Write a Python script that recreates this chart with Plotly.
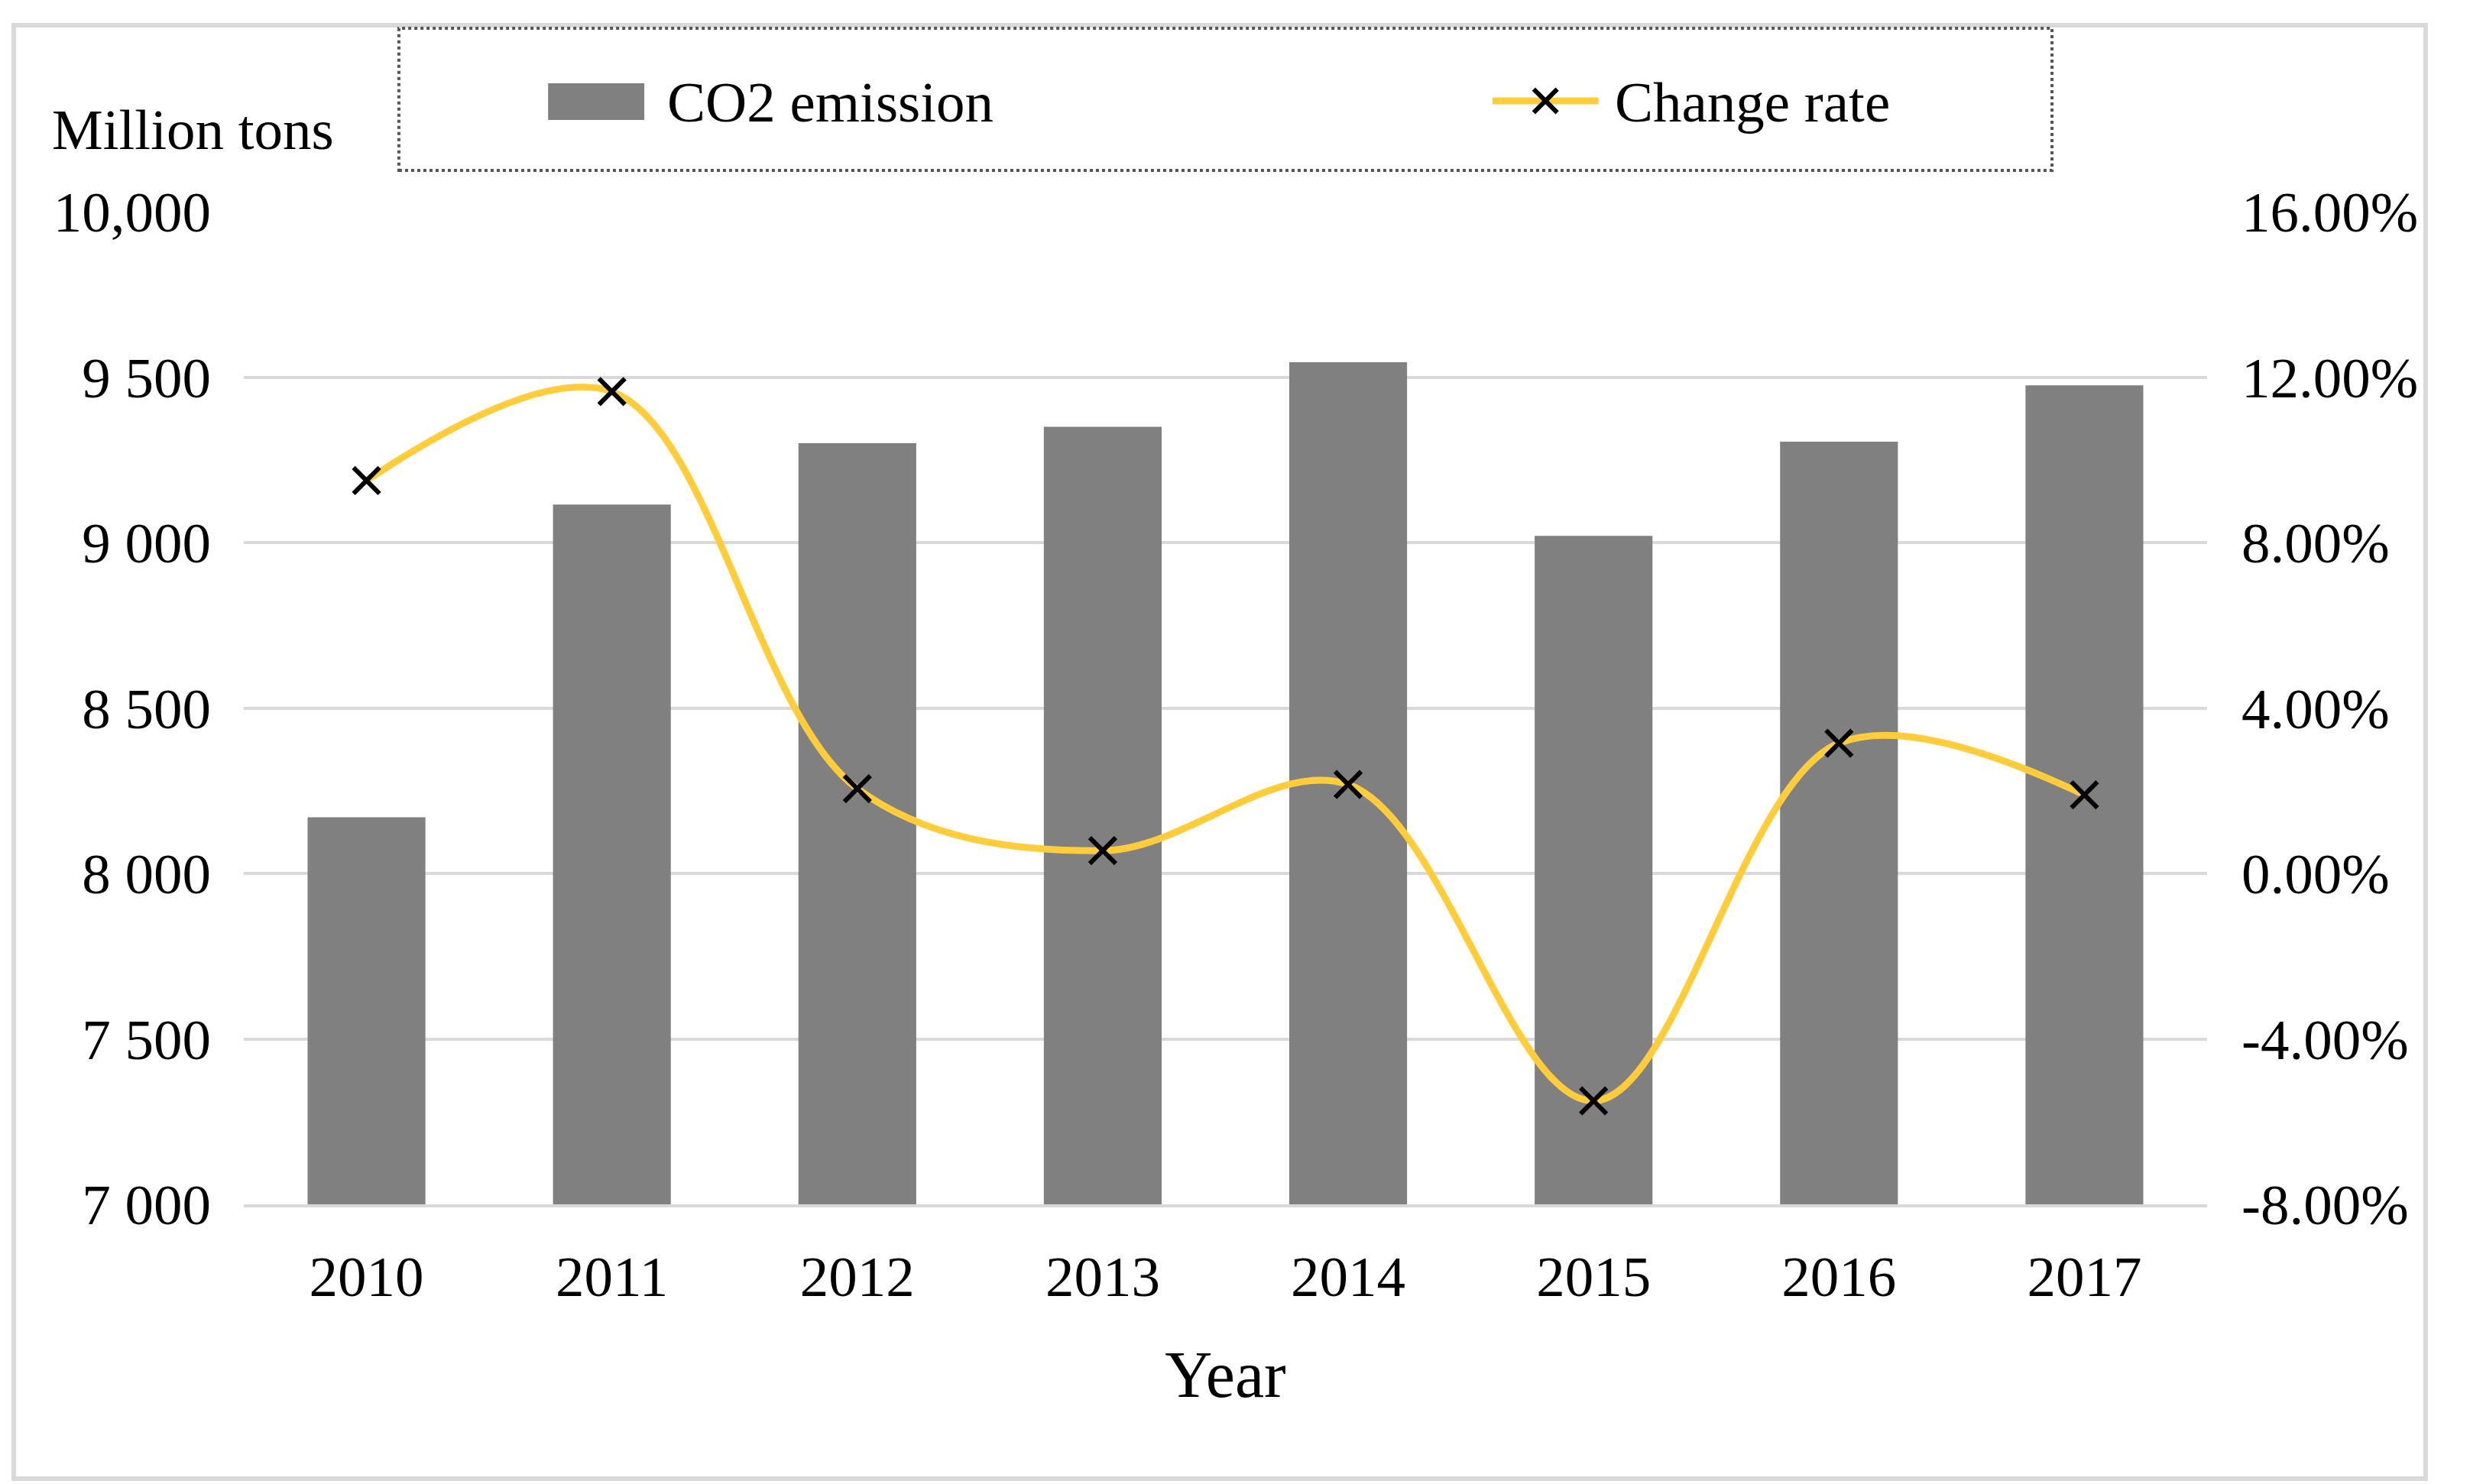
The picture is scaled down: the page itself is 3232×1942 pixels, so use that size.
import plotly.graph_objects as go

# ---- data ----
years = ["2010", "2011", "2012", "2013", "2014", "2015", "2016", "2017"]
co2_emission = [8170, 9115, 9300, 9350, 9545, 9020, 9305, 9475]          # million tons
change_rate = [9.5, 11.65, 2.05, 0.55, 2.15, -5.5, 3.15, 1.9]             # percent

left_tick_values = [7000, 7500, 8000, 8500, 9000, 9500, 10000]
left_tick_labels = ["7 000", "7 500", "8 000", "8 500", "9 000", "9 500", "10,000"]
right_tick_values = [-8, -4, 0, 4, 8, 12, 16]
right_tick_labels = ["-8.00%", "-4.00%", "0.00%", "4.00%", "8.00%", "12.00%", "16.00%"]

series_names = ["CO2 emission", "Change rate"]

# ---- styles ----
FONT = "Liberation Serif, Times New Roman, serif"
BAR_COLOR = "#808080"
LINE_COLOR = "#FFCD3C"
GRID = "#D9D9D9"
TXT = 75

fig = go.Figure()
fig.add_trace(go.Bar(
    x=years, y=co2_emission, name=series_names[0],
    marker=dict(color=BAR_COLOR, line=dict(width=0)),
    width=0.48, yaxis="y", showlegend=False,
))
fig.add_trace(go.Scatter(
    x=years, y=change_rate, name=series_names[1], yaxis="y2",
    mode="lines+markers",
    line=dict(color=LINE_COLOR, width=9, shape="spline", smoothing=1.0),
    marker=dict(symbol="x-thin", size=34, color="black",
                line=dict(color="black", width=6)),
    showlegend=False,
))

fig.update_layout(
    width=3232, height=1942,
    margin=dict(l=311, r=352, t=269, b=374),
    paper_bgcolor="white", plot_bgcolor="white",
    font=dict(family=FONT, size=TXT, color="black"),
    xaxis=dict(
        type="category", range=[-0.5, 7.5],
        showgrid=False, showline=True, linecolor=GRID, linewidth=4,
        ticks="", ticklabelstandoff=26,
        tickfont=dict(size=TXT),
        title=dict(text="Year", font=dict(size=86), standoff=58),
    ),
    yaxis=dict(
        range=[7000, 10000], tickvals=left_tick_values, ticktext=left_tick_labels,
        showgrid=True, gridcolor=GRID, gridwidth=4,
        zeroline=False, showline=False, ticks="", ticklabelstandoff=42,
        tickfont=dict(size=TXT),
    ),
    yaxis2=dict(
        overlaying="y", side="right",
        range=[-8, 16], tickvals=right_tick_values, ticktext=right_tick_labels,
        showgrid=False, zeroline=False, showline=False, ticks="",
        ticklabelstandoff=44, tickfont=dict(size=TXT),
    ),
    bargap=0.52,
)

# y-axis unit label
fig.add_annotation(
    text="Million tons", xref="paper", yref="paper",
    x=-0.0985, y=1.0824, xanchor="left", yanchor="middle",
    showarrow=False, font=dict(size=TXT),
)

shapes = []
# outer frame
shapes.append(dict(type="rect", xref="paper", yref="paper",
                   x0=-0.1172, x1=1.1113, y0=-0.2764, y1=1.1878,
                   line=dict(color=GRID, width=6), layer="below"))
# legend box (dotted)
shapes.append(dict(type="rect", xref="paper", yref="paper",
                   x0=0.079, x1=0.921, y0=1.0416, y1=1.1848,
                   line=dict(color="#555555", width=4, dash="dot"),
                   fillcolor="white"))
# legend: bar swatch
shapes.append(dict(type="rect", xref="paper", yref="paper",
                   x0=0.155, x1=0.204, y0=1.0924, y1=1.1293,
                   line=dict(width=0), fillcolor=BAR_COLOR))
# legend: line swatch
shapes.append(dict(type="line", xref="paper", yref="paper",
                   x0=0.636, x1=0.690, y0=1.1116, y1=1.1116,
                   line=dict(color=LINE_COLOR, width=9)))
# legend: x marker
mx, my, dx, dy = 0.663, 1.1116, 0.0060, 0.0118
shapes.append(dict(type="line", xref="paper", yref="paper",
                   x0=mx - dx, x1=mx + dx, y0=my - dy, y1=my + dy,
                   line=dict(color="black", width=6)))
shapes.append(dict(type="line", xref="paper", yref="paper",
                   x0=mx - dx, x1=mx + dx, y0=my + dy, y1=my - dy,
                   line=dict(color="black", width=6)))
fig.update_layout(shapes=shapes)

fig.add_annotation(text=series_names[0], xref="paper", yref="paper",
                   x=0.215, y=1.1101, xanchor="left", yanchor="middle",
                   showarrow=False, font=dict(size=TXT))
fig.add_annotation(text=series_names[1], xref="paper", yref="paper",
                   x=0.6975, y=1.1101, xanchor="left", yanchor="middle",
                   showarrow=False, font=dict(size=TXT))

fig.write_html("out.html")
